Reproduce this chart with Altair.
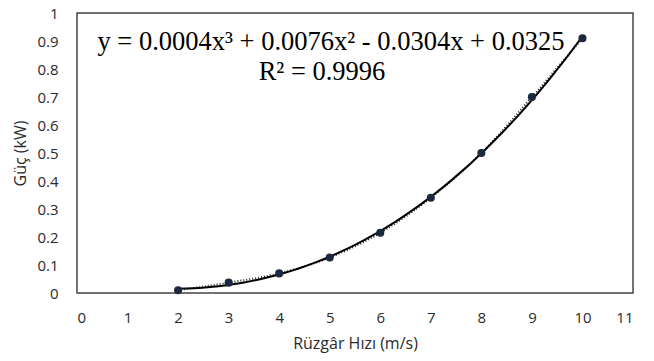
import altair as alt
import pandas as pd

wind_speed = [2, 3, 4, 5, 6, 7, 8, 9, 10]
power_kw = [0.01, 0.037, 0.07, 0.127, 0.215, 0.34, 0.50, 0.70, 0.91]
x_ticks = list(range(0, 12))
y_ticks = [0, 0.1, 0.2, 0.3, 0.4, 0.5, 0.6, 0.7, 0.8, 0.9, 1]
eq_text = "y = 0.0004x³ + 0.0076x² - 0.0304x + 0.0325"
r2_text = "R² = 0.9996"

df = pd.DataFrame({"x": wind_speed, "y": power_kw})

xs = alt.Scale(domain=[0, 11], nice=False, zero=False)
ys = alt.Scale(domain=[0, 1], nice=False)

xax = alt.Axis(values=x_ticks, title="Rüzgâr Hızı (m/s)", grid=False, domain=False,
               ticks=False, labelPadding=17, labelFont="Open Sans", labelFontSize=15,
               labelColor="#2a2a2a", labelOverlap=False, titleFont="Open Sans", titleFontSize=16,
               titleFontWeight="normal", titleColor="#2a2a2a", titleY=50,
               titleBaseline="middle")
yax = alt.Axis(values=y_ticks, title="Güç (kW)", grid=False, domain=False,
               ticks=False, labelPadding=19, labelFont="Open Sans", labelFontSize=15,
               labelColor="#2a2a2a", labelOverlap=False, format="~g", titleFont="Open Sans",
               titleFontSize=16, titleFontWeight="normal", titleColor="#2a2a2a", titleX=-57,
               titleY=140, titleAngle=-90, titleBaseline="middle", titleAlign="center")

X = alt.X("x:Q", scale=xs, axis=xax)
Y = alt.Y("y:Q", scale=ys, axis=yax)

base = alt.Chart(df)

dotted = base.mark_line(color="#222", strokeDash=[1, 2], strokeWidth=2, interpolate="monotone").encode(
    x=X, y=Y
)

trend = base.transform_regression("x", "y", method="poly", order=3).mark_line(
    color="black", strokeWidth=2
).encode(x=X, y=Y)

pts = base.mark_point(filled=True, size=65, color="#1c2740", opacity=1).encode(x=X, y=Y)

eq = alt.Chart(pd.DataFrame({"t": [eq_text]})).mark_text(
    font="Liberation Serif", fontSize=26.5, color="black", align="center", baseline="middle"
).encode(text="t:N", x=alt.value(254), y=alt.value(29))

r2 = alt.Chart(pd.DataFrame({"t": [r2_text]})).mark_text(
    font="Liberation Serif", fontSize=26.5, color="black", align="center", baseline="middle"
).encode(text="t:N", x=alt.value(245), y=alt.value(59))

chart = alt.layer(dotted, trend, pts, eq, r2).properties(
    width=556, height=280,
    autosize=alt.AutoSizeParams(type="none"),
    padding={"left": 77, "top": 13, "right": 21, "bottom": 68},
    background="white",
).configure_view(stroke="#444", strokeWidth=1.5)

chart.save("out.html", embed_options={"renderer": "svg", "actions": False})
